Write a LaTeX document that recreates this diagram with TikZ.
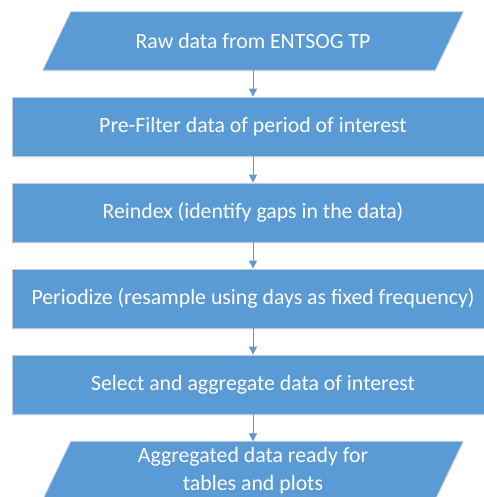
\documentclass[tikz,border=0pt]{standalone}
\usepackage{fontspec}
\setmainfont{Carlito}
\usetikzlibrary{arrows.meta,backgrounds,calc,shadows}
\definecolor{boxblue}{HTML}{5B9BD5}
\definecolor{boxedge}{HTML}{BFCDDB}
\tikzset{
  procbox/.style={rectangle, fill=boxblue, draw=boxedge, line width=0.8pt,
    minimum width=482pt, minimum height=59pt, inner sep=0pt,
    text=white, font=\fontsize{21.8}{28}\selectfont, align=center,
    drop shadow={opacity=0.12, shadow xshift=0pt, shadow yshift=-2pt}},
  paratext/.style={rectangle, minimum width=392pt, minimum height=58pt, inner sep=0pt,
    text=white, font=\fontsize{21.8}{28}\selectfont, align=center},
  parashape/.style={fill=boxblue, draw=boxedge, line width=0.8pt,
    drop shadow={opacity=0.12, shadow xshift=0pt, shadow yshift=-2pt}},
  flow/.style={draw=boxblue, line width=1pt, -{Triangle[length=8pt,width=8pt]}},
}
\begin{document}
\begin{tikzpicture}[x=1pt,y=1pt]
\useasboundingbox (0,0) rectangle (483,-497);
\node[paratext] (raw) at (253,-41) {Raw data from ENTSOG TP};
\node[procbox] (pre) at (253,-126.5) {Pre-Filter data of period of interest};
\node[procbox] (reidx) at (253,-212.5) {Reindex (identify gaps in the data)};
\node[procbox] (period) at (253,-298.5) {Periodize (resample using days as fixed frequency)};
\node[procbox] (select) at (253,-384.5) {Select and aggregate data of interest};
\node[paratext] (agg) at (253,-470.5) {Aggregated data ready for\\tables and plots};
\begin{scope}[on background layer]
  \path[parashape] ($(raw.south west)+(-14,0)$) -- ($(raw.south east)+(-14,0)$)
    -- ($(raw.north east)+(14,0)$) -- ($(raw.north west)+(14,0)$) -- cycle;
  \path[parashape] ($(agg.south west)+(-14,0)$) -- ($(agg.south east)+(-14,0)$)
    -- ($(agg.north east)+(14,0)$) -- ($(agg.north west)+(14,0)$) -- cycle;
\end{scope}
\draw[flow] (raw.south) -- (pre.north);
\draw[flow] (pre.south) -- (reidx.north);
\draw[flow] (reidx.south) -- (period.north);
\draw[flow] (period.south) -- (select.north);
\draw[flow] (select.south) -- (agg.north);
\end{tikzpicture}
\end{document}
